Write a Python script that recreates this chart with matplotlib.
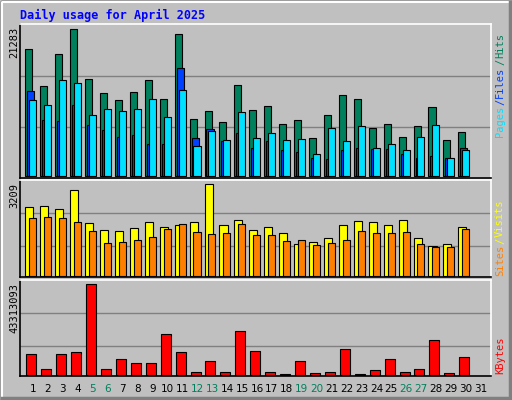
import matplotlib
matplotlib.use('Agg')
import matplotlib.pyplot as plt
import numpy as np

days = np.arange(1, 32)
weekends = [5, 6, 12, 13, 19, 20, 26, 27]

hits = [18387, 13030, 17663, 21283, 14044, 12017, 11003, 12162, 13899, 11148,
        20559, 8252, 9411, 7818, 13175, 9555, 10135, 7529, 8108, 5502,
        8832, 11727, 11148, 6949, 7529, 5646, 7239, 9990, 5212, 6370]
files = [11003, 10279, 13899, 13465, 8832, 9700, 9411, 9700, 11148, 8542,
         12451, 4343, 6515, 5212, 9266, 5502, 6226, 5212, 5357, 3185,
         6949, 5067, 7239, 4054, 4633, 3764, 5646, 7384, 2606, 3764]
pages = [12306, 8108, 7963, 10279, 7384, 6660, 5646, 5936, 4633, 4633,
         15636, 5502, 6805, 5067, 6226, 4054, 5067, 3764, 3475, 2606,
         2461, 3764, 4054, 3909, 3909, 3185, 2606, 2896, 2606, 4054]
visits = [2407, 2442, 2338, 3000, 1849, 1605, 1570, 1675, 1884, 1710,
          1779, 1884, 3209, 1779, 1954, 1605, 1710, 1500, 1116, 1186,
          1326, 1779, 1919, 1884, 1779, 1954, 1326, 1047, 1116, 1710]
sites = [2024, 2059, 2024, 1884, 1570, 1151, 1186, 1256, 1361, 1640,
         1814, 1535, 1465, 1500, 1814, 1430, 1430, 1221, 1256, 1082,
         1151, 1256, 1570, 1500, 1500, 1535, 1116, 1012, 1012, 1640]
kbytes = [9995000, 2856000, 9995000, 10947000, 43313093, 2856000, 7616000, 5712000, 5712000, 19515000,
          10947000, 1428000, 6664000, 1428000, 20943000, 11423000, 1428000, 476000, 6664000, 952000,
          1428000, 12375000, 476000, 2380000, 7616000, 1428000, 2856000, 16659000, 952000, 8567000]

W, H = 512, 400
BG = '#C0C0C0'
fig = plt.figure(figsize=(W / 100, H / 100), dpi=100, facecolor=BG)
mono = 'DejaVu Sans Mono'

def px_ax(x0, y0, x1, y1):
    return fig.add_axes([x0 / W, 1 - y1 / H, (x1 - x0) / W, (y1 - y0) / H])

# outer bevel
fig.add_artist(plt.Rectangle((0.5 / W, 0.5 / H), 1 - 1 / W, 1 - 1 / H, transform=fig.transFigure,
                             fill=False, ec='black', lw=1))
fig.add_artist(plt.Line2D([2 / W, 2 / W, 1 - 2 / W], [2 / H, 1 - 2 / H, 1 - 2 / H],
                          transform=fig.transFigure, color='white', lw=1.5))
fig.add_artist(plt.Line2D([2 / W, 1 - 2 / W, 1 - 2 / W], [2 / H, 2 / H, 1 - 2 / H],
                          transform=fig.transFigure, color='#808080', lw=2.5))

fig.text(20 / W, 1 - 15 / H, 'Daily usage for April 2025', color='#0000FF', family=mono,
         weight='bold', fontsize=8.5, va='center', ha='left')

x = np.arange(1, 31)
xl = (1 - 13 / 14.93, 1 + (491 - 33) / 14.93)

def style(ax, lo, hi, grids):
    ax.set_facecolor(BG)
    ax.set_xlim(*xl)
    ax.set_ylim(lo, hi)
    ax.set_xticks([]); ax.set_yticks([])
    for g in grids:
        ax.axhline(g, color='#808080', lw=1, zorder=0)
    for s in ['left', 'bottom']:
        ax.spines[s].set_color('black')
    for s in ['top', 'right']:
        ax.spines[s].set_color('white')
    for s in ax.spines.values():
        s.set_linewidth(1.2)

renderer = fig.canvas.get_renderer()

def right_label(parts, y_bottom):
    # stack vertical pieces from the bottom up
    y = y_bottom
    for txt, col in parts:
        t = fig.text(500 / W, 1 - y / H, txt, color=col, family=mono, fontsize=7.5,
                     rotation=90, ha='center', va='bottom')
        y -= t.get_window_extent(renderer).height + 1

# top panel
f1 = 21283 / 147
ax1 = px_ax(20, 24, 491, 178)
style(ax1, -2 * f1, 152 * f1, [49 * f1, 100 * f1])
ax1.bar(x - 0.51, hits, width=0.47, align='edge', color='#00805C', ec='black', lw=0.8)
ax1.bar(x - 0.38, pages, width=0.47, align='edge', color='#0040FF', ec='black', lw=0.8)
ax1.bar(x - 0.25, files, width=0.47, align='edge', color='#00E0FF', ec='black', lw=0.8)
fig.text(14 / W, 1 - 27 / H, '21283', family=mono, fontsize=7.5, rotation=90, ha='center', va='top')
right_label([('Pages', '#00E0FF'), ('/', '#0040FF'), ('Files', '#0040FF'),
             ('/', '#00805C'), ('Hits', '#00805C')], 137)

# middle panel
f2 = 3209 / 92
ax2 = px_ax(20, 180, 491, 277)
style(ax2, -0.7 * f2, 96.3 * f2, [30 * f2, 63 * f2])
ax2.bar(x - 0.51, visits, width=0.54, align='edge', color='#FFFF00', ec='black', lw=0.8)
ax2.bar(x - 0.25, sites, width=0.47, align='edge', color='#FF8000', ec='black', lw=0.8)
fig.text(14 / W, 1 - 183 / H, '3209', family=mono, fontsize=7.5, rotation=90, ha='center', va='top')
right_label([('Sites', '#FF8000'), ('/', '#FFFF00'), ('Visits', '#FFFF00')], 276)

# bottom panel
f3 = 43313093 / 91
ax3 = px_ax(20, 280, 491, 376)
style(ax3, -0.7 * f3, 95.3 * f3, [29 * f3, 62 * f3])
ax3.bar(x - 0.45, kbytes, width=0.67, align='edge', color='#FF0000', ec='black', lw=0.8)
fig.text(14 / W, 1 - 283 / H, '43313093', family=mono, fontsize=7.5, rotation=90, ha='center', va='top')
right_label([('KBytes', '#FF0000')], 374)

# day labels
for d in days:
    xp = 33 + (d - 1) * 14.93
    fig.text(xp / W, 1 - 389 / H, str(d), color='#00805C' if d in weekends else 'black',
             fontsize=7.5, ha='center', va='center')

fig.savefig('out.png', dpi=100, facecolor=BG)
